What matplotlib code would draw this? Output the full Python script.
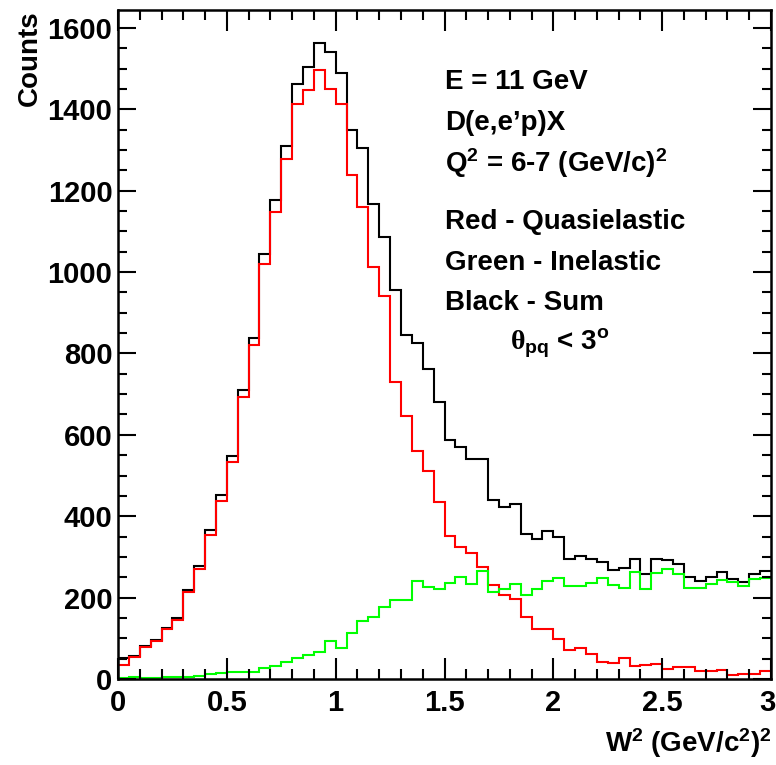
import numpy as np
import matplotlib
matplotlib.use('Agg')
import matplotlib.pyplot as plt
import matplotlib.transforms as mtransforms
from matplotlib.ticker import MultipleLocator, FixedLocator, FixedFormatter

# ---------------- data ----------------
x_range = (0.0, 3.0)
n_bins = 60

red_quasielastic = [34, 53, 79, 94, 122, 145, 213, 270, 355, 437,
                    533, 694, 822, 1019, 1148, 1277, 1413, 1447, 1496, 1450,
                    1414, 1238, 1160, 1013, 940, 730, 647, 560, 510, 436,
                    351, 324, 309, 276, 231, 206, 196, 153, 124, 122,
                    98, 71, 75, 61, 43, 40, 51, 33, 34, 38,
                    24, 29, 29, 20, 20, 22, 10, 12, 12, 20]

green_inelastic = [2, 4, 2, 3, 5, 5, 6, 8, 12, 15,
                   17, 18, 18, 27, 33, 41, 51, 58, 66, 93,
                   76, 113, 143, 153, 177, 195, 195, 241, 227, 222,
                   237, 250, 234, 266, 213, 220, 233, 206, 221, 241,
                   249, 228, 228, 235, 249, 231, 223, 262, 221, 260,
                   270, 257, 223, 223, 233, 243, 239, 228, 245, 249]

black_sum = [52, 56, 81, 97, 126, 150, 219, 278, 366, 452,
             549, 710, 838, 1044, 1178, 1310, 1462, 1503, 1562, 1541,
             1490, 1350, 1305, 1168, 1087, 956, 845, 825, 762, 681,
             587, 569, 541, 541, 441, 423, 430, 357, 343, 364,
             348, 296, 303, 295, 288, 268, 274, 295, 257, 296,
             292, 282, 251, 241, 251, 264, 246, 239, 257, 265]

xtick_values = [0, 0.5, 1, 1.5, 2, 2.5, 3]
xtick_labels = ['0', '0.5', '1', '1.5', '2', '2.5', '3']
ytick_values = [0, 200, 400, 600, 800, 1000, 1200, 1400, 1600]
ytick_labels = ['0', '200', '400', '600', '800', '1000', '1200', '1400', '1600']

info_lines = ['E = 11 GeV',
              "D(e,e\u2019p)X",
              r'Q$^{\mathbf{2}}$ = 6-7 (GeV/c)$^{\mathbf{2}}$',
              'Red - Quasielastic',
              'Green - Inelastic',
              'Black - Sum']
theta_line = r'$\mathrm{\theta}_{\mathbf{pq}}$ < 3$^{\mathbf{o}}$'
x_title = r'W$^{\mathbf{2}}$ (GeV/c$^{\mathbf{2}}$)$^{\mathbf{2}}$'
y_title = 'Counts'

# ---------------- style ----------------
plt.rcParams['font.family'] = ['Liberation Sans', 'DejaVu Sans']
plt.rcParams['font.weight'] = 'bold'
plt.rcParams['mathtext.fontset'] = 'custom'
plt.rcParams['mathtext.rm'] = 'Liberation Serif'
plt.rcParams['mathtext.bf'] = 'Liberation Sans:bold'
plt.rcParams['mathtext.it'] = 'Liberation Sans:italic:bold'
plt.rcParams['mathtext.sf'] = 'Liberation Sans:bold'

W, H = 776, 765
fig = plt.figure(figsize=(W / 100, H / 100), dpi=100)
fig.patch.set_facecolor('white')

def fx(px):
    return px / W

def fy(py):
    return 1 - py / H

ax_left, ax_right, ax_top, ax_bottom = 118, 771, 10, 679
ax = fig.add_axes([fx(ax_left), fy(ax_bottom), (ax_right - ax_left) / W,
                   (ax_bottom - ax_top) / H])

edges = np.linspace(x_range[0], x_range[1], n_bins + 1)
ax.stairs(black_sum, edges, color='black', lw=1.5, baseline=None)
ax.stairs(red_quasielastic, edges, color='#ff0000', lw=1.5, baseline=None)
ax.stairs(green_inelastic, edges, color='#00ff00', lw=1.5, baseline=None)

ax.set_xlim(*x_range)
ax.set_ylim(0, 1644)

for s in ax.spines.values():
    s.set_linewidth(1.8)

ax.xaxis.set_major_locator(FixedLocator(xtick_values))
ax.xaxis.set_major_formatter(FixedFormatter(xtick_labels))
ax.xaxis.set_minor_locator(MultipleLocator(0.1))
ax.yaxis.set_major_locator(FixedLocator(ytick_values))
ax.yaxis.set_major_formatter(FixedFormatter(ytick_labels))
ax.yaxis.set_minor_locator(MultipleLocator(50))

ax.tick_params(axis='x', which='major', direction='in', length=15, width=1.5,
               top=True, bottom=True, labelsize=21, pad=7)
ax.tick_params(axis='x', which='minor', direction='in', length=7.5, width=1.5,
               top=True, bottom=True)
ax.tick_params(axis='y', which='major', direction='in', length=13, width=1.5,
               left=True, right=True, labelsize=21, pad=4)
ax.tick_params(axis='y', which='minor', direction='in', length=6.5, width=1.5,
               left=True, right=True)
for lab in ax.get_xticklabels() + ax.get_yticklabels():
    lab.set_fontweight('bold')

# keep the last x tick label inside the picture
fig.canvas.draw()
last = ax.get_xticklabels()[-1]
last.set_transform(last.get_transform() +
                   mtransforms.ScaledTranslation(-4 / 100, 0, fig.dpi_scale_trans))

# axis titles
fig.text(fx(772), fy(752), x_title, ha='right', va='baseline',
         fontsize=20, fontweight='bold')
fig.text(fx(30), fy(10), y_title, ha='center', va='top', rotation=90,
         fontsize=20, fontweight='bold')

# info text
baselines = [89, 130, 172, 229, 270, 310]
for txt, yb in zip(info_lines, baselines):
    fig.text(fx(445), fy(yb), txt, ha='left', va='baseline',
             fontsize=20, fontweight='bold')
fig.text(fx(510), fy(350), theta_line, ha='left', va='baseline',
         fontsize=20, fontweight='bold')

fig.savefig('out.png', dpi=100, facecolor='white')
